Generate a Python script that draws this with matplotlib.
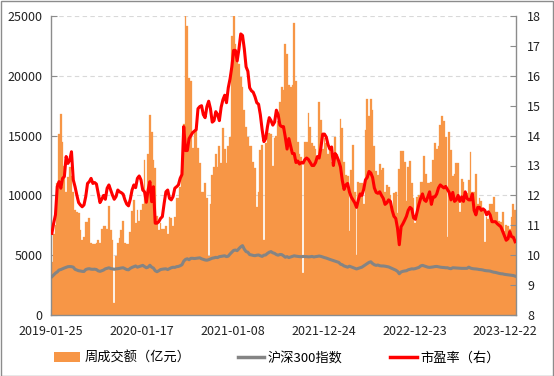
import matplotlib
matplotlib.use('Agg')
import matplotlib.pyplot as plt
import numpy as np
from matplotlib.patches import Patch, Rectangle
from matplotlib.lines import Line2D

plt.rcParams['font.family'] = ['Noto Sans CJK SC', 'DejaVu Sans']

# Weekly turnover (100 million CNY)
turnover = [
    4400, 6800, 7500, 11000, 15100, 16800, 14500, 12500, 10300, 11500,
    12400, 11600, 10300, 8800, 8600, 8500, 7100, 6300, 6500, 7800,
    7800, 8100, 6000, 5900, 5900, 6000, 6300, 6000, 7200, 7400,
    7400, 7200, 9100, 7100, 6300, 1000, 4900, 6000, 6400, 7100,
    7900, 6000, 5900, 5900, 6900, 8700, 9600, 7700, 8800, 7900,
    8800, 9300, 13000, 9500, 13500, 16700, 15300, 13000, 12300, 8300,
    7100, 7700, 7200, 7200, 7400, 6800, 8200, 8100, 7400, 8200,
    9800, 9800, 10700, 12100, 16000, 25000, 24200, 19800, 19600, 14000,
    15500, 15500, 14000, 12700, 10300, 10300, 11000, 9750, 4900, 9300,
    11700, 12400, 13500, 12400, 14100, 12700, 15600, 13900, 12700, 14100,
    14900, 23300, 25000, 22700, 21300, 21000, 19900, 19100, 17100, 15700,
    14900, 14100, 14100, 12800, 12300, 9000, 10300, 13800, 14200, 6300,
    14400, 16300, 15200, 15100, 12500, 14800, 15000, 16200, 17800, 19100,
    18800, 22700, 21800, 19200, 19100, 19200, 24400, 19600, 14500, 13500,
    13200, 3500, 14500, 14500, 16900, 15700, 14400, 14100, 13900, 13200,
    17800, 16300, 13900, 14800, 14400, 13500, 13800, 12800, 12500, 14900,
    13500, 12700, 16400, 15600, 12800, 11700, 11600, 7000, 12100, 14200,
    10300, 5000, 11100, 11000, 11000, 9300, 15500, 18100, 16600, 18100,
    17100, 14100, 12000, 11700, 12600, 12100, 12300, 10300, 10900, 10700,
    10000, 8800, 10200, 10300, 8500, 12200, 13700, 13700, 12800, 9500,
    12400, 12900, 11000, 9750, 7700, 9900, 10000, 11100, 11100, 13300,
    11800, 11000, 11000, 11100, 13000, 14400, 13900, 14100, 15900, 16600,
    16200, 14900, 6500, 15300, 13800, 11600, 11800, 12700, 12700, 8600,
    11400, 11100, 10300, 10200, 11300, 13600, 10300, 10300, 11800, 9300,
    9750, 9500, 8900, 6100, 8200, 8000, 9300, 9300, 9900, 8600,
    8600, 7900, 7800, 8600, 7000, 7500, 7400, 7200, 8200, 9300,
    8800,
]

# CSI 300 index (left axis)
csi300 = [
    3200, 3350, 3500, 3600, 3760, 3800, 3870, 3930, 3990, 4040,
    4050, 4040, 4000, 3820, 3760, 3700, 3680, 3650, 3640, 3800,
    3850, 3870, 3830, 3820, 3830, 3800, 3690, 3650, 3700, 3760,
    3860, 3900, 3950, 3880, 3860, 3820, 3860, 3870, 3900, 3930,
    3950, 3870, 3800, 3780, 3900, 3980, 4040, 4100, 4000, 4050,
    4100, 4150, 4050, 3950, 4000, 4160, 4000, 3920, 3700, 3620,
    3700, 3800, 3830, 3850, 3860, 3800, 3880, 3950, 3990, 3980,
    4040, 4060, 4120, 4200, 4500, 4650, 4700, 4620, 4740, 4740,
    4720, 4740, 4760, 4780, 4700, 4650, 4600, 4580, 4620, 4680,
    4750, 4780, 4820, 4800, 4880, 4900, 4930, 4950, 4880, 4920,
    5100, 5250, 5400, 5430, 5380, 5550, 5700, 5800, 5500, 5300,
    5250, 5050, 5020, 4980, 4960, 5000, 5020, 4950, 4900, 5000,
    5020, 5150, 5250, 5300, 5200, 5150, 5050, 5000, 5060, 5050,
    4950, 4830, 4880, 4800, 4850, 4900, 4950, 4920, 4900, 4880,
    4870, 4900, 4880, 4880, 4860, 4870, 4900, 4850, 4880, 4900,
    4930, 4900, 4850, 4800, 4760, 4700, 4650, 4600, 4550, 4500,
    4450, 4400, 4250, 4200, 4100, 4050, 4000, 4080, 4020, 3950,
    3900, 3850, 3900, 3950, 4000, 4100, 4200, 4300, 4400, 4450,
    4300, 4200, 4150, 4180, 4120, 4100, 4100, 4080, 4050, 4020,
    3950, 3870, 3800, 3750, 3650, 3450, 3600, 3650, 3680, 3700,
    3780, 3820, 3860, 3850, 3880, 3930, 3980, 4100, 4150, 4100,
    4050, 4000, 3980, 4000, 4020, 4050, 4060, 4030, 4000, 3980,
    3970, 3950, 3950, 3900, 3870, 3950, 3940, 3930, 3920, 3910,
    3900, 3900, 3900, 3900, 4000, 3920, 3880, 3860, 3850, 3830,
    3800, 3790, 3760, 3720, 3700, 3690, 3670, 3620, 3580, 3560,
    3520, 3480, 3450, 3440, 3400, 3380, 3360, 3340, 3320, 3300,
    3250,
]

# Price-earnings ratio (right axis)
pe = [
    10.73, 11.07, 11.35, 12.29, 12.46, 12.24, 12.57, 12.63, 13.30, 13.07,
    13.18, 13.46, 12.52, 12.29, 12.01, 11.76, 11.68, 11.62, 11.68, 11.96,
    12.40, 12.46, 12.57, 12.40, 12.43, 12.38, 12.07, 11.76, 11.87, 12.00,
    11.87, 12.24, 12.35, 12.18, 12.01, 11.87, 11.96, 12.18, 12.12, 12.09,
    12.04, 11.85, 11.71, 11.65, 11.87, 12.18, 12.35, 12.26, 12.57, 12.65,
    12.52, 12.18, 12.12, 11.77, 12.18, 12.46, 11.79, 12.29, 11.07, 11.07,
    11.12, 11.23, 11.29, 11.73, 12.12, 12.18, 11.90, 11.85, 11.96, 12.24,
    12.29, 12.35, 12.57, 12.70, 14.30, 13.50, 13.50, 13.90, 14.00, 14.10,
    14.15, 14.20, 14.90, 14.97, 15.00, 14.70, 14.60, 14.97, 15.15, 14.90,
    14.45, 14.50, 14.80, 14.70, 14.50, 14.95, 15.20, 15.35, 15.10, 15.60,
    15.90, 16.30, 16.85, 16.85, 16.50, 16.90, 17.40, 17.35, 16.90, 16.30,
    16.15, 15.60, 15.50, 15.45, 15.30, 15.10, 15.05, 14.70, 14.20, 13.80,
    13.90, 14.30, 14.60, 14.50, 14.35, 14.45, 14.85, 14.70, 14.35, 14.30,
    14.30, 13.95, 13.55, 13.90, 13.65, 13.40, 13.40, 13.10, 13.15, 13.05,
    13.10, 13.08, 13.20, 13.25, 13.20, 13.10, 13.00, 13.00, 13.10, 13.30,
    13.25, 13.60, 14.05, 14.05, 13.95, 13.70, 13.55, 13.62, 13.00, 13.40,
    13.30, 13.15, 12.95, 12.50, 12.20, 12.35, 12.40, 12.12, 11.95, 11.85,
    11.75, 11.60, 11.85, 12.05, 12.00, 12.20, 12.52, 12.60, 12.80, 12.75,
    12.60, 12.25, 12.10, 12.07, 12.12, 12.00, 11.90, 11.70, 11.75, 11.85,
    11.80, 11.50, 11.30, 11.23, 10.90, 10.35, 10.95, 11.05, 11.17, 11.30,
    11.50, 11.60, 11.55, 11.25, 11.20, 11.45, 11.70, 11.90, 12.05, 11.85,
    11.80, 11.95, 12.12, 11.70, 11.95, 11.95, 12.05, 12.25, 12.35, 12.30,
    12.25, 12.30, 12.20, 12.10, 11.85, 12.10, 11.80, 11.85, 12.00, 11.80,
    11.95, 11.80, 12.12, 11.90, 11.85, 11.85, 12.05, 11.50, 11.35, 11.60,
    11.60, 11.50, 11.55, 11.50, 11.35, 11.45, 11.35, 11.12, 11.12, 11.12,
    11.05, 11.00, 10.95, 10.80, 10.65, 10.50, 10.55, 10.79, 10.62, 10.60,
    10.45,
]

tick_labels = ['2019-01-25', '2020-01-17', '2021-01-08',
               '2021-12-24', '2022-12-23', '2023-12-22']
label_interval = 51

series_names = ['周成交额（亿元）', '沪深300指数', '市盈率（右）']

W, H = 554, 376
fig = plt.figure(figsize=(W / 100, H / 100), dpi=100)
fig.patch.set_facecolor('white')

L, R, T, B = 51, 516, 16, 315
ax = fig.add_axes([L / W, 1 - B / H, (R - L) / W, (B - T) / H])
x = np.arange(len(turnover))

ax.bar(x, turnover, width=1.0, color='#F79646', edgecolor='#F79646',
       linewidth=0.2, zorder=2)
ax.plot(x, csi300, color='#848484', lw=2.2, zorder=3, solid_joinstyle='round')
ax.set_xlim(-0.5, len(x) - 0.5)
ax.set_ylim(0, 25000)
ax.set_yticks(np.arange(0, 25001, 5000))
ax.set_axisbelow(True)
ax.yaxis.grid(True, color='#D9D9D9', linestyle=(0, (4, 3)), lw=0.8, zorder=0)

ticks = [i * label_interval - 0.5 for i in range(len(tick_labels))]
ax.set_xticks(ticks)
ax.set_xticklabels(tick_labels)

ax2 = ax.twinx()
ax2.plot(x, pe, color='#FF0000', lw=2.2, zorder=4, solid_joinstyle='round')
ax2.set_ylim(8, 18)
ax2.set_yticks(np.arange(8, 19, 1))

for a in (ax, ax2):
    for s in a.spines.values():
        s.set_visible(False)
ax.spines['left'].set_visible(True)
ax.spines['bottom'].set_visible(True)
ax2.spines['right'].set_visible(True)
for s in (ax.spines['left'], ax.spines['bottom'], ax2.spines['right']):
    s.set_color('#8C8C8C')
    s.set_linewidth(1.0)

ax.tick_params(axis='y', direction='in', length=4, color='#8C8C8C',
               labelsize=9, pad=6, labelcolor='#222222')
ax.tick_params(axis='x', direction='in', length=4, color='#8C8C8C',
               labelsize=9, pad=7, labelcolor='#222222')
ax2.tick_params(axis='y', direction='in', length=4, color='#8C8C8C',
                labelsize=9, pad=8, labelcolor='#222222')

handles = [Patch(facecolor='#F79646', edgecolor='none'),
           Line2D([], [], color='#848484', lw=2.5),
           Line2D([], [], color='#FF0000', lw=2.5)]
fig.legend(handles, series_names, loc='center',
           bbox_to_anchor=(0.5, 1 - 358 / H), ncol=3, frameon=False,
           fontsize=9.5, handlelength=2.0, handleheight=0.8,
           handletextpad=0.3, columnspacing=3.6)

fig.patches.append(Rectangle((0.5 / W, 0.5 / H), 1 - 1.5 / W, 1 - 1.5 / H,
                             transform=fig.transFigure, fill=False,
                             edgecolor='#8C8C8C', lw=1.0))

fig.savefig('out.png', dpi=100, facecolor='white')
